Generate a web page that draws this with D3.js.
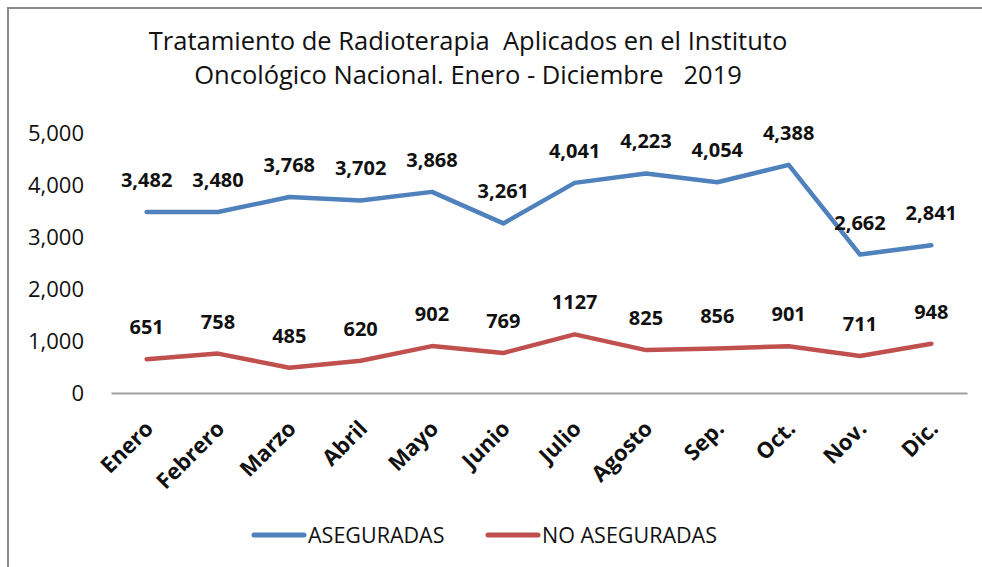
<!DOCTYPE html>
<html>
<head>
<meta charset="utf-8">
<script src="https://cdn.jsdelivr.net/npm/d3@7"></script>
<style>
  body { margin: 0; background: #fff; }
  svg { display: block; font-family: "Open Sans", sans-serif; }
</style>
</head>
<body>
<div id="chart"></div>
<script>
const months = ["Enero", "Febrero", "Marzo", "Abril", "Mayo", "Junio", "Julio", "Agosto", "Sep.", "Oct.", "Nov.", "Dic."];
const asegurados = [3482, 3480, 3768, 3702, 3868, 3261, 4041, 4223, 4054, 4388, 2662, 2841];
const noAsegurados = [651, 758, 485, 620, 902, 769, 1127, 825, 856, 901, 711, 948];
const yTicks = [0, 1000, 2000, 3000, 4000, 5000];
const seriesNames = ["ASEGURADAS", "NO ASEGURADAS"];

const W = 982, H = 567;
const margin = { top: 133, right: 15, bottom: 174, left: 111 };
const width = W - margin.left - margin.right;
const height = H - margin.top - margin.bottom;

const svg = d3.select("#chart").append("svg")
    .attr("width", W)
    .attr("height", H);

// chart frame
svg.append("path")
    .attr("d", `M8,${H} V8 H${W}`)
    .attr("fill", "none")
    .attr("stroke", "#8c8c8c")
    .attr("stroke-width", 2);

// title
const title = svg.append("text")
    .attr("text-anchor", "middle")
    .attr("font-size", 25.5)
    .attr("fill", "#111")
    .style("white-space", "pre");
title.append("tspan").attr("x", 468).attr("y", 50)
    .text("Tratamiento de Radioterapia  Aplicados en el Instituto");
title.append("tspan").attr("x", 468).attr("y", 84)
    .text("Oncológico Nacional. Enero - Diciembre   2019");

const g = svg.append("g")
    .attr("transform", `translate(${margin.left},${margin.top})`);

const xScale = d3.scaleBand().domain(months).range([0, width]);
const yScale = d3.scaleLinear().domain([0, 5000]).range([height, 0]);

// y axis labels (no line)
const yAxis = d3.axisLeft(yScale)
    .tickValues(yTicks)
    .tickFormat(d3.format(","))
    .tickSize(0)
    .tickPadding(27);
g.append("g").attr("class", "y-axis").call(yAxis)
    .call(s => s.select(".domain").remove())
    .selectAll("text")
    .attr("font-size", 22)
    .attr("font-family", "Open Sans, sans-serif")
    .attr("fill", "#111");

// x axis
const xAxis = d3.axisBottom(xScale).tickSize(0).tickPadding(0);
const xg = g.append("g").attr("class", "x-axis")
    .attr("transform", `translate(0,${height})`)
    .call(xAxis);
xg.select(".domain").attr("stroke", "#a0a0a0").attr("stroke-width", 2);
xg.selectAll("text")
    .attr("font-size", 22)
    .attr("font-weight", "bold")
    .attr("font-family", "Open Sans, sans-serif")
    .attr("fill", "#111")
    .attr("text-anchor", "end")
    .attr("dy", 0)
    .attr("transform", "translate(8,37) rotate(-45)");

const cx = (d, i) => xScale(months[i]) + xScale.bandwidth() / 2;
const line = d3.line().x(cx).y(d => yScale(d));

const series = [
  { name: seriesNames[0], values: asegurados, color: "#4f81bd", fmt: d3.format(",") },
  { name: seriesNames[1], values: noAsegurados, color: "#c0504d", fmt: d => String(d) }
];

series.forEach(s => {
  g.append("path")
      .datum(s.values)
      .attr("fill", "none")
      .attr("stroke", s.color)
      .attr("stroke-width", 4.5)
      .attr("stroke-linejoin", "round")
      .attr("stroke-linecap", "round")
      .attr("d", line);
});

series.forEach(s => {
  g.selectAll(null)
      .data(s.values)
      .join("text")
      .attr("x", cx)
      .attr("y", d => yScale(d) - 25)
      .attr("text-anchor", "middle")
      .attr("font-size", 20)
      .attr("font-weight", "bold")
      .attr("fill", "#111")
      .text(s.fmt);
});

// legend
const legendItems = [
  { x: 254, color: series[0].color, name: seriesNames[0] },
  { x: 488, color: series[1].color, name: seriesNames[1] }
];
const lg = svg.append("g");
legendItems.forEach(it => {
  lg.append("line")
      .attr("x1", it.x).attr("x2", it.x + 50)
      .attr("y1", 535).attr("y2", 535)
      .attr("stroke", it.color)
      .attr("stroke-width", 5)
      .attr("stroke-linecap", "round");
  lg.append("text")
      .attr("x", it.x + 54)
      .attr("y", 543)
      .attr("font-size", 21.5)
      .attr("fill", "#111")
      .text(it.name);
});
</script>
</body>
</html>
